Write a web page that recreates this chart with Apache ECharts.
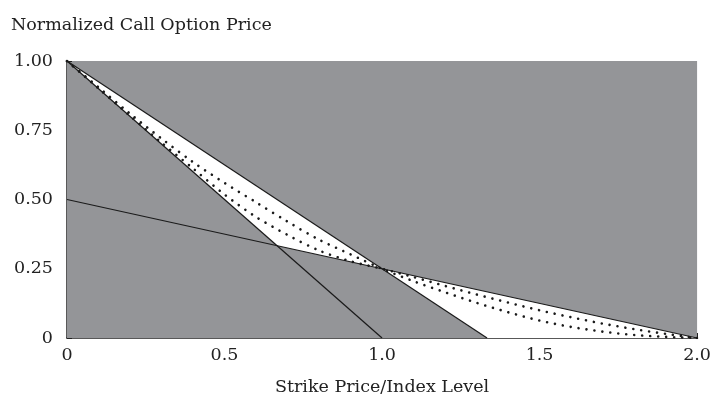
<!DOCTYPE html>
<html>
<head>
<meta charset="utf-8">
<script src="https://cdn.jsdelivr.net/npm/echarts@6/dist/echarts.min.js"></script>
<style>html,body{margin:0;padding:0;background:#fff;}#c{width:714px;height:403px;}</style>
</head>
<body>
<div id="c"></div>
<script>
// Bound lines (strike/index, normalized price)
var intrinsicLine = [[0, 1], [1, 0]];
var lowPutLine = [[0, 0.5], [2, 0]];
var steepLine = [[0, 1], [4/3, 0]];
// Feasible region envelopes
var upperEnvelope = [[0, 1], [1, 0.25], [2, 0]];
var lowerEnvelope = [[0, 1], [2/3, 1/3], [1, 0.25], [4/3, 0], [2, 0]];
// Dotted price curves
var strikes = [0, 0.1, 0.2, 0.3, 0.4, 0.5, 0.6, 0.7, 0.8, 0.9, 1.0, 1.1, 1.2, 1.3, 1.4, 1.5, 1.6, 1.7, 1.8, 1.9, 2.0];
var curveA = [1, 0.905, 0.81, 0.72, 0.635, 0.56, 0.49, 0.42, 0.355, 0.302, 0.25, 0.205, 0.165, 0.127, 0.093, 0.063, 0.040, 0.023, 0.011, 0.004, 0];
var curveB = [1, 0.901, 0.802, 0.705, 0.612, 0.518, 0.437, 0.372, 0.316, 0.277, 0.25, 0.220, 0.188, 0.157, 0.128, 0.100, 0.075, 0.052, 0.032, 0.015, 0];
var xTicks = [0, 0.5, 1.0, 1.5, 2.0];
var yTicks = [0, 0.25, 0.5, 0.75, 1.0];

var GRAY = '#949598';
var FONT = '"DejaVu Serif", serif';
var FS = 17.5;

function pairs(xs, ys) { return xs.map(function (x, i) { return [x, ys[i]]; }); }

var lineSeries = function (data) {
  return { type: 'line', data: data, symbol: 'none', silent: true, z: 5,
    lineStyle: { color: '#1a1a1a', width: 1.2 } };
};
var dotSeries = function (data) {
  return { type: 'line', data: data, symbol: 'none', silent: true, smooth: 0.3, z: 4,
    lineStyle: { color: '#1a1a1a', width: 2.6, type: [0.01, 8], cap: 'round' } };
};

var chart = echarts.init(document.getElementById('c'), null, { renderer: 'canvas' });
chart.setOption({
  animation: false,
  backgroundColor: '#fff',
  title: {
    text: 'Normalized Call Option Price', left: 6, top: 11,
    textStyle: { fontFamily: FONT, fontSize: FS, fontWeight: 'normal', color: '#222' }
  },
  grid: { left: 67, right: 14, top: 61, bottom: 65, show: true, backgroundColor: GRAY, borderWidth: 0 },
  xAxis: {
    type: 'value', min: 0, max: 2, interval: 0.5,
    name: 'Strike Price/Index Level', nameLocation: 'middle', nameGap: 40,
    nameTextStyle: { fontFamily: FONT, fontSize: FS, color: '#222' },
    axisLine: { show: true, onZero: false, lineStyle: { color: '#222', width: 1.5 } },
    axisTick: { show: true, inside: true, length: 5, lineStyle: { color: '#222' } },
    axisLabel: { fontFamily: FONT, fontSize: FS, color: '#222', margin: 8,
      formatter: function (v) { return v === 0 ? '0' : v.toFixed(1); } },
    splitLine: { show: false }
  },
  yAxis: {
    type: 'value', min: 0, max: 1, interval: 0.25,
    axisLine: { show: true, onZero: false, lineStyle: { color: '#222', width: 1.5 } },
    axisTick: { show: true, inside: true, length: 5, lineStyle: { color: '#222' } },
    axisLabel: { fontFamily: FONT, fontSize: FS, color: '#222', margin: 14,
      formatter: function (v) { return v === 0 ? '0' : v.toFixed(2); } },
    splitLine: { show: false }
  },
  series: [
    { type: 'line', data: upperEnvelope, symbol: 'none', silent: true, z: 1,
      lineStyle: { width: 0 }, areaStyle: { color: '#ffffff', opacity: 1 } },
    { type: 'line', data: lowerEnvelope, symbol: 'none', silent: true, z: 2,
      lineStyle: { width: 0 }, areaStyle: { color: GRAY, opacity: 1 } },
    dotSeries(pairs(strikes, curveA)),
    dotSeries(pairs(strikes, curveB)),
    lineSeries(intrinsicLine),
    lineSeries(lowPutLine),
    lineSeries(steepLine)
  ]
});
</script>
</body>
</html>
